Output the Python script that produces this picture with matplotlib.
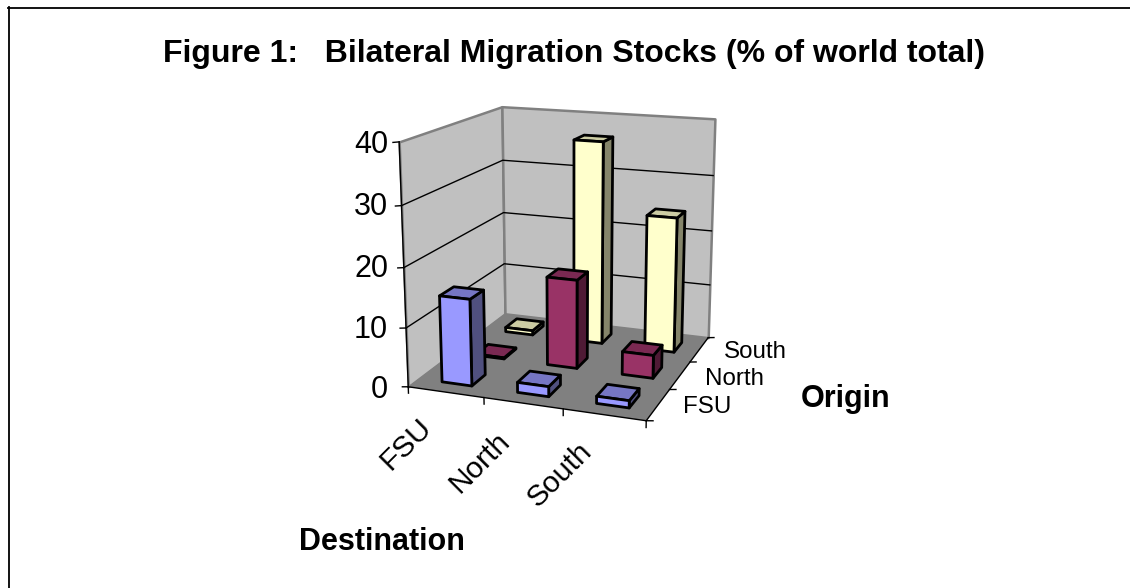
import numpy as np
import matplotlib
matplotlib.use("Agg")
import matplotlib.pyplot as plt
from matplotlib.lines import Line2D
from mpl_toolkits.mplot3d.art3d import Poly3DCollection

plt.rcParams['font.family'] = ['Liberation Sans', 'DejaVu Sans']

destinations = ["FSU", "North", "South"]
origins = ["FSU", "North", "South"]
z_ticks = [0, 10, 20, 30, 40]
origin_fsu = [14.7, 1.7, 1.2]
origin_north = [0.2, 15.5, 4.0]
origin_south = [0.8, 36.5, 24.2]

W, H = 1130, 588
fig = plt.figure(figsize=(W / 100, H / 100), dpi=100, facecolor='white')
ax = fig.add_axes([0, 0, 1, 1], projection='3d', computed_zorder=False)
ax.set_axis_off()
ax.patch.set_alpha(0)
ax.set_xlim(0, 3); ax.set_ylim(0, 3); ax.set_zlim(0, 40)

# camera calibration: axis-box corners (x, y, z) -> pixel position
calib = [((0, 0, 0), (408.3, 386.7)), ((3, 0, 0), (646, 421)),
         ((0, 3, 0), (505, 314)), ((3, 3, 0), (708.3, 337.3)),
         ((0, 0, 40), (399.3, 141.7)), ((0, 3, 40), (501.7, 106.7)),
         ((3, 3, 40), (715, 119))]
A = []
for (x, y, z), (u, v) in calib:
    A.append([x, y, z, 1, 0, 0, 0, 0, -u * x, -u * y, -u * z, -u])
    A.append([0, 0, 0, 0, x, y, z, 1, -v * x, -v * y, -v * z, -v])
P = np.linalg.svd(np.array(A, float))[2][-1].reshape(3, 4)


def get_proj():
    inv = ax.transData.inverted()
    o = inv.transform((0, H)); e = inv.transform((W, 0))
    sx = (e[0] - o[0]) / W; sy = (e[1] - o[1]) / H
    M = np.zeros((4, 4))
    M[0] = sx * P[0] + o[0] * P[2]
    M[1] = sy * P[1] + o[1] * P[2]
    M[2] = np.array([0, 0.1, 0, 1.0])
    M[3] = P[2]
    return M


ax.get_proj = get_proj


def quad(pts, fc, ec='none', lw=0.0, zo=1):
    c = Poly3DCollection([pts], facecolors=fc, edgecolors=ec, linewidths=lw, zorder=zo)
    ax.add_collection3d(c)


WALL, FLOOR, RIM = '#C0C0C0', '#808080', '#808080'
quad([(0, 0, 0), (0, 3, 0), (0, 3, 40), (0, 0, 40)], WALL, RIM, 1.8, 1)
quad([(0, 3, 0), (3, 3, 0), (3, 3, 40), (0, 3, 40)], WALL, RIM, 1.8, 1)
quad([(0, 0, 0), (3, 0, 0), (3, 3, 0), (0, 3, 0)], FLOOR, 'none', 0, 2)

for z in z_ticks[1:-1]:
    ax.plot([0, 0, 3], [0, 3, 3], [z, z, z], color='black', lw=1.0, zorder=1.5)
ax.plot([0, 3], [0, 0], [0, 0], color='black', lw=1.0, zorder=2.5)
ax.plot([3, 3], [0, 3], [0, 0], color='black', lw=1.0, zorder=2.5)
ax.plot([0, 0], [0, 0], [0, 40], color='black', lw=1.0, zorder=2.5)
for z in z_ticks:
    ax.plot([0, -0.08], [0, 0], [z, z - 0.15], color='black', lw=1.0, zorder=2.5)
for x in range(4):
    ax.plot([x, x], [0, 0], [0, -1.1], color='black', lw=1.0, zorder=2.5)
for y in range(4):
    ax.plot([3, 3.08], [y, y], [0, 0.15], color='black', lw=1.0, zorder=2.5)

palette = {0: ('#9999FF', '#7676C4', '#50507F'),
           1: ('#993366', '#7A2952', '#4F1A35'),
           2: ('#FFFFCC', '#CCCCA3', '#85856A')}
series = [origin_fsu, origin_north, origin_south]
BW = 0.4
order = 3.0
for j in [2, 1, 0]:
    for i in range(3):
        x0, x1 = i + 0.5 - BW / 2, i + 0.5 + BW / 2
        y0, y1 = j + 0.5 - BW / 2, j + 0.5 + BW / 2
        h = series[j][i]
        front, top, side = palette[j]
        order += 1
        quad([(x1, y0, 0), (x1, y1, 0), (x1, y1, h), (x1, y0, h)], side, 'black', 2.0, order)
        quad([(x0, y0, h), (x1, y0, h), (x1, y1, h), (x0, y1, h)], top, 'black', 2.0, order + .1)
        quad([(x0, y0, 0), (x1, y0, 0), (x1, y0, h), (x0, y0, h)], front, 'black', 2.0, order + .2)


def T(x, y, s, **kw):
    fig.text(x / W, 1 - y / H, s, **kw)


for xs, ys in [((8, W), (7.5, 7.5)), ((8.5, 8.5), (7, H))]:
    fig.add_artist(Line2D([v / W for v in xs], [1 - v / H for v in ys], color='black', lw=1.3))
T(574, 54, "Figure 1:   Bilateral Migration Stocks (% of world total)", fontsize=23,
  fontweight='bold', ha='center', va='center')
for z, (xp, yp) in zip(z_ticks, [(388, 390), (388, 330), (388, 269), (388, 207), (388, 145)]):
    T(xp, yp, str(z), fontsize=22, ha='right', va='center')
for s, (xp, yp) in zip(destinations, [(406, 444), (480, 462), (560, 475)]):
    T(xp, yp, s, fontsize=21.5, rotation=45, ha='center', va='center', rotation_mode='anchor')
for s, (xp, yp) in zip(origins, [(683, 407), (705, 379), (724, 352)]):
    T(xp, yp, s, fontsize=17.4, ha='left', va='center')
T(801, 399, "Origin", fontsize=22, fontweight='bold', ha='left', va='center')
T(299, 542, "Destination", fontsize=22, fontweight='bold', ha='left', va='center')

fig.savefig('out.png', dpi=100)
